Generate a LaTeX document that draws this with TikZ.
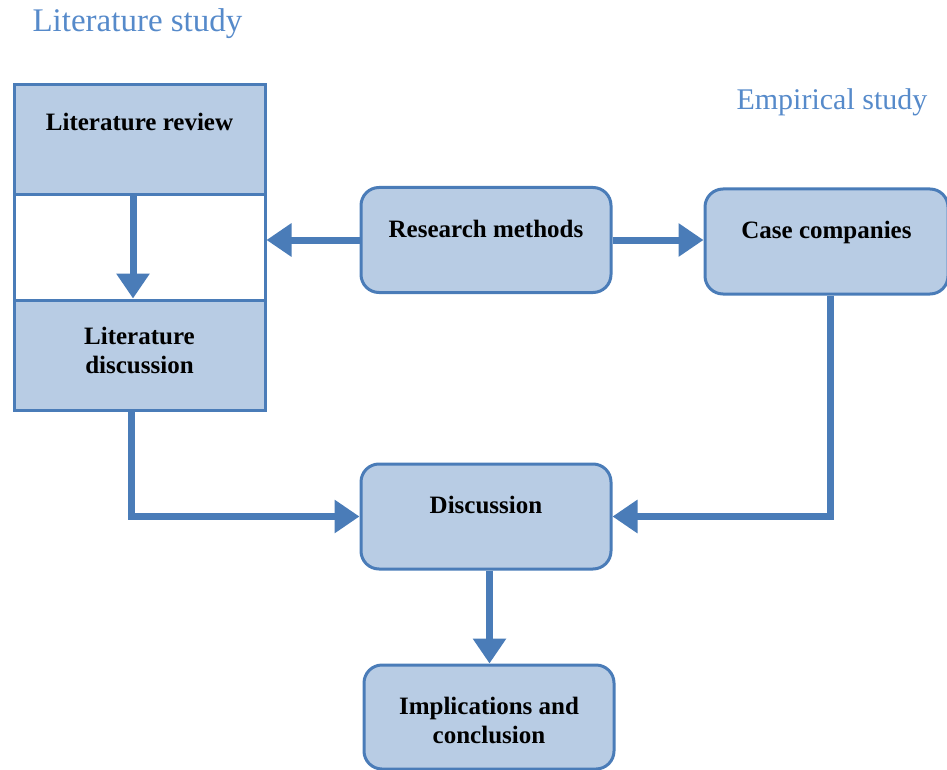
\documentclass[tikz,border=0pt]{standalone}
\usepackage{fontspec}
\setmainfont{Liberation Serif}
\usepackage{xcolor}
\usepackage{tikz}
\usetikzlibrary{calc, arrows.meta}

\definecolor{boxline}{RGB}{74,124,184}
\definecolor{boxfill}{RGB}{184,204,228}
\definecolor{headblue}{RGB}{86,138,202}

\tikzset{
  sqbox/.style={draw=boxline, line width=3pt, fill=boxfill, minimum width=251pt, minimum height=110pt,
    inner sep=0pt, align=center, font=\fontsize{25}{29}\selectfont\bfseries},
  rdbox/.style={sqbox, rounded corners=18pt, minimum width=250pt, minimum height=105pt},
  flow/.style={draw=boxline, line width=7pt, -{Triangle[length=25pt,width=32pt]}},
  head/.style={text=headblue, font=\fontsize{33}{36}\selectfont}
}

\begin{document}
\begin{tikzpicture}[x=1pt, y=-1pt]
\useasboundingbox (0,0) rectangle (947,770);
\node [head, anchor=base west] (litstudy) at (29,32) {Literature study};
\node [head, font=\fontsize{30}{33}\selectfont, anchor=base west] (empstudy) at (733,110) {Empirical study};
\node [sqbox, text height=16pt, text depth=35.5pt] (litrev) at (139.5,140) {Literature review};
\node [sqbox, fill=white, minimum height=105pt] (litgap) at (139.5,247.5) {};
\node [sqbox, text depth=8.5pt] (litdisc) at (139.5,355) {Literature\\discussion};
\node [rdbox, text height=16pt, text depth=21.5pt] (resm) at (486,240) {Research methods};
\node [rdbox, minimum width=243pt, text height=16pt, text depth=22.5pt] (casec) at (826.5,241.5) {Case companies};
\node [rdbox, text height=16pt, text depth=22.5pt] (disc) at (486,516.5) {Discussion};
\node [rdbox, minimum height=104pt, text height=54pt] (impl) at (489,717) {Implications and\\conclusion};
\draw [flow] ([xshift=-6.5pt]litrev.south) -- ([xshift=-6.5pt]litdisc.north);
\draw [flow] (resm.west) -- (resm.west -| litgap.east);
\draw [flow] (resm.east) -- (resm.east -| casec.west);
\draw [flow] ([xshift=4pt]casec.south) |- (disc.east);
\draw [flow] ([xshift=-8.5pt]litdisc.south) |- (disc.west);
\draw [flow] ([xshift=3.5pt]disc.south) -- ([xshift=3.5pt]disc.south |- impl.north);
\end{tikzpicture}
\end{document}
